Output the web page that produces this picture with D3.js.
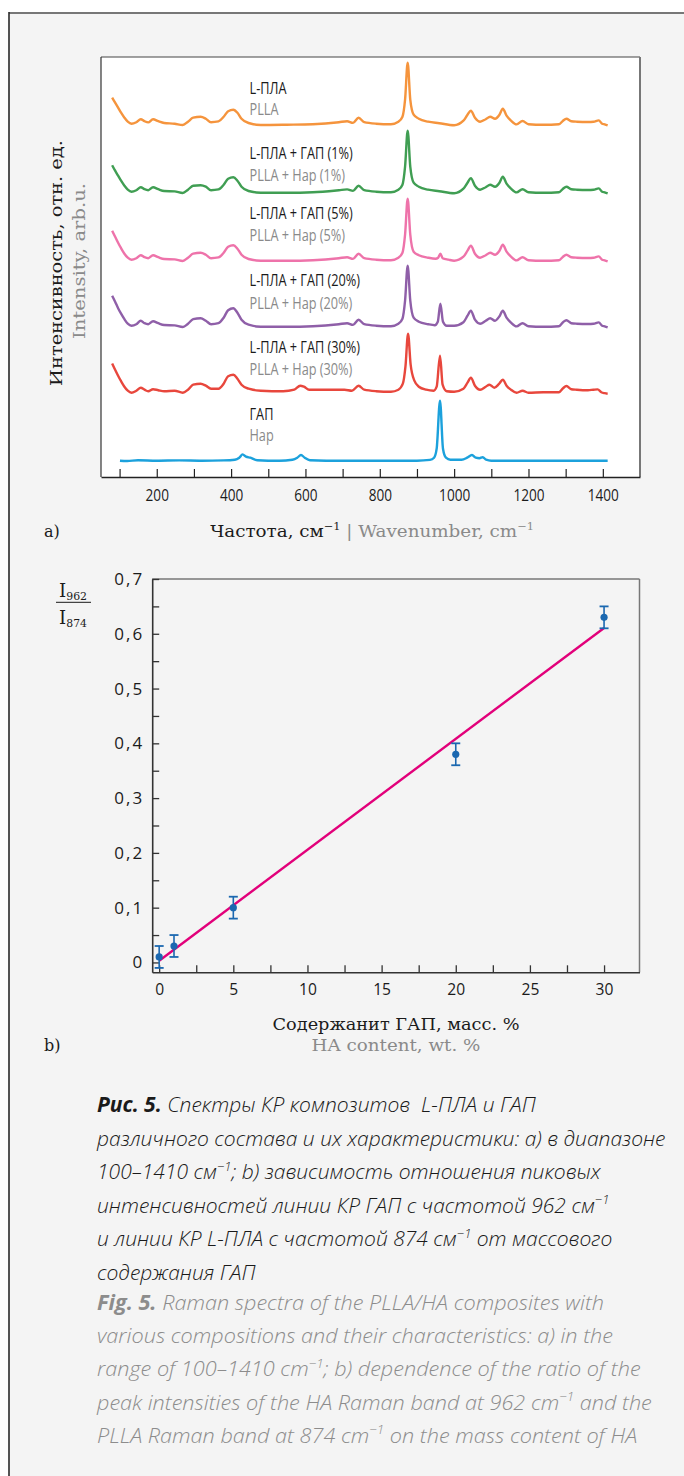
<!DOCTYPE html>
<html>
<head>
<meta charset="utf-8">
<script src="https://cdn.jsdelivr.net/npm/d3@7/dist/d3.min.js"></script>
<style>
  html, body { margin: 0; padding: 0; background: #ffffff; }
  svg { display: block; }
  text { white-space: pre; }
</style>
</head>
<body>
<svg id="fig" width="684" height="1476"></svg>
<script>
// ---------- Panel a: Raman spectra (wavenumber, cm-1 ; intensity above own baseline, arb. u.) ----------
const specPLLA = [
  [80,26],[88,21],[96,16],[104,11],[113,6],[122,2],[132,0],[145,1.5],[157,4.5],[167,2.5],[177,1.3],[190,4.5],
  [204,2.5],[220,0.7],[248,0],[270,-1.3],[284,2],[298,6],[318,7],[332,5],[346,1.5],[366,2.3],[380,7],[392,12.5],
  [406,14],[417,11],[428,5],[447,0.7],[480,-1.3],[550,-1],[620,-0.5],[690,1.5],[712,2.5],[728,0.8],[743,6],[758,1.5],
  [790,0],[830,-0.5],[850,2],[861,7],[868,24],[875,61],[882,24],[891,9],[905,5],[930,2],[960,0.5],[1000,-1.5],
  [1025,3],[1036,9],[1045,13],[1056,6],[1070,2],[1085,4.5],[1097,7],[1110,5],[1122,9],[1131,15],[1141,8],[1153,3],
  [1168,-0.7],[1184,2.7],[1200,-0.5],[1240,-1],[1282,-0.5],[1293,3],[1302,5],[1315,2.5],[1330,2],[1360,1.7],
  [1375,2],[1389,3.3],[1398,0],[1405,-0.7],[1413,-1.7]
];
const specHA1 = [
  [80,26.5],[88,21],[96,16],[104,11],[113,6],[122,2],[132,0],[145,1.5],[157,4.5],[167,2.5],[177,1.5],[190,4.5],
  [204,2.5],[220,0.7],[248,0.3],[270,-1.3],[284,2],[298,6],[318,6.5],[332,5],[346,1.5],[366,2.3],[380,7],[392,13],
  [406,14.5],[417,11],[428,5],[447,0.7],[480,-1],[550,-1],[620,-0.5],[690,1.5],[712,2.3],[728,0.8],[743,6],[758,1.5],
  [790,0],[830,-0.5],[850,2],[861,7],[868,25],[875,61],[882,25],[891,9],[905,5],[930,2],[960,0.5],[1000,-1.5],
  [1025,3],[1036,9],[1045,13.5],[1056,6],[1070,2],[1085,4.5],[1097,7],[1110,5],[1122,9],[1131,15],[1141,8],[1153,3],
  [1168,-0.7],[1184,2.5],[1200,-0.5],[1240,-1],[1282,-0.5],[1293,3],[1302,5],[1315,2.5],[1330,2],[1360,1.7],
  [1375,2],[1389,3.3],[1398,0],[1405,-0.7],[1413,-1.7]
];
const specHA5 = [
  [80,29],[88,23],[96,17],[104,11.5],[113,6],[122,2],[132,0],[145,1.5],[157,4.5],[167,2.5],[177,1.5],[190,4.5],
  [204,2.5],[220,0.7],[248,0.3],[270,-1.3],[284,2],[298,6],[318,7],[332,5],[346,1.5],[366,2.3],[380,7],[392,13],
  [406,14.5],[417,11],[428,5],[447,0.7],[480,-1],[550,-1],[620,-0.5],[690,1.5],[712,2.5],[728,0.8],[743,6],[758,1.5],
  [790,0],[830,-0.5],[850,2],[861,7],[868,25],[875,61],[882,25],[891,8],[905,4.5],[930,2],[950,1],[957,2],[963,6],
  [969,1.5],[985,0],[1000,-1],
  [1025,3],[1036,9],[1045,14],[1056,6],[1070,2],[1085,4.5],[1097,7],[1110,5],[1122,9],[1131,15],[1141,8],[1153,3],
  [1168,-0.7],[1184,2.5],[1200,-0.5],[1240,-1],[1282,-0.5],[1293,3],[1302,5],[1315,2.5],[1330,2],[1360,1.7],
  [1375,2],[1389,3.3],[1398,0],[1405,-0.7],[1413,-1.7]
];
const specHA20 = [
  [80,30],[88,24],[96,17.5],[104,12],[113,6.5],[122,2],[132,0],[145,1.5],[157,5],[167,2.5],[177,1.5],[190,4.5],
  [204,2.5],[220,0.7],[248,0.3],[270,-1.3],[284,2],[298,6.5],[318,7.5],[332,5],[346,1.5],[366,2.5],[380,8],[392,15.5],
  [406,17.5],[417,13],[428,6],[447,1],[480,-1],[550,-1],[620,-0.5],[690,1.5],[712,2.5],[728,0.8],[743,6],[758,1.5],
  [790,0],[830,-0.5],[850,2],[861,7],[868,25],[875,60],[882,25],[891,8],[905,4],[930,1.5],[948,0.5],[956,4],[963,22],
  [970,4],[980,0],[1000,0],
  [1025,3.5],[1036,10],[1045,15],[1056,6],[1070,2],[1085,5],[1097,7.5],[1110,5],[1122,9.5],[1131,15],[1141,8],[1153,3],
  [1168,-0.7],[1184,2.5],[1200,-0.5],[1240,-1],[1282,-0.5],[1293,3.5],[1302,5.5],[1315,2.5],[1330,2],[1360,1.7],
  [1375,2],[1389,3.3],[1398,0],[1405,-0.7],[1413,-1.7]
];
const specHA30 = [
  [80,29.3],[88,23],[96,17],[104,11.5],[113,6],[122,2],[132,0],[145,2],[157,5],[167,3],[177,1.5],[190,3.5],
  [204,2.5],[220,1.5],[248,2],[270,0],[284,3],[298,8],[318,9],[332,7],[346,4],[366,4],[380,9],[392,16.5],
  [406,18],[417,14],[428,8],[447,4],[480,2],[540,1.5],[570,3],[586,7],[596,6],[610,3],[660,3],[705,3],[725,2],
  [743,7],[758,3],[790,1.5],[830,1],[850,3],[862,9],[869,26],[876,59],[883,28],[893,12],[905,6],[925,3],[945,2],
  [953,6],[962,37],[969,8],[980,1.5],[1000,1],
  [1025,4],[1036,10],[1045,15],[1056,7],[1070,3],[1085,6],[1095,8],[1108,5],[1120,8.5],[1131,13],[1141,7],[1153,3],
  [1168,0],[1184,2],[1200,0],[1240,0.5],[1282,0.5],[1293,4.5],[1302,6.7],[1315,3.5],[1330,3],[1360,2.5],
  [1375,3],[1386,3.3],[1396,0.5],[1405,-0.5],[1413,-1]
];
const specHA = [
  [101,0],[120,-0.3],[150,0.5],[200,0],[260,0.3],[320,0],[380,0.3],[410,1],[422,3],[431,6.3],[440,4],[452,3],
  [470,0.5],[530,0],[565,1],[578,3],[588,5.7],[598,3],[612,0.5],[700,0],[800,0],[900,0],[935,0.8],[946,3],
  [953,12],[962,60],[970,12],[978,3],[990,1],[1020,1],[1035,3],[1048,5.7],[1058,3],[1068,2.5],[1077,3.5],
  [1086,1],[1100,0],[1200,0],[1300,0],[1413,0]
];

const spectra      = [specPLLA, specHA1, specHA5, specHA20, specHA30, specHA];
const stackOffsets = [337, 269, 201, 135, 68, 0];
const spectrumColors = ["#f5943c", "#3f9e52", "#ee73aa", "#8f5fa8", "#e8473c", "#1aa1dc"];
const labelsRu = ["L-ПЛА", "L-ПЛА + ГАП (1%)", "L-ПЛА + ГАП (5%)", "L-ПЛА + ГАП (20%)", "L-ПЛА + ГАП (30%)", "ГАП"];
const labelsEn = ["PLLA", "PLLA + Hap (1%)", "PLLA + Hap (5%)", "PLLA + Hap (20%)", "PLLA + Hap (30%)", "Hap"];
const wnTickValues = [200, 400, 600, 800, 1000, 1200, 1400];
const wnTickLabels = ["200", "400", "600", "800", "1000", "1200", "1400"];
const wnMinorTicks = [100, 300, 500, 700, 900, 1100, 1300];

// ---------- Panel b: I962 / I874 versus HA content ----------
const haContent   = [0, 1, 5, 20, 30];
const ratio       = [0.01, 0.03, 0.10, 0.38, 0.63];
const ratioErr    = [0.02, 0.02, 0.02, 0.02, 0.02];
const ratioTicks  = [0, 0.1, 0.2, 0.3, 0.4, 0.5, 0.6, 0.7];
const ratioTickLabels = ["0", "0,1", "0,2", "0,3", "0,4", "0,5", "0,6", "0,7"];
const ratioMinor  = [0.05, 0.15, 0.25, 0.35, 0.45, 0.55, 0.65];
const contentTicks = [0, 5, 10, 15, 20, 25, 30];
const contentTickLabels = ["0", "5", "10", "15", "20", "25", "30"];
const contentMinor = [2.5, 7.5, 12.5, 17.5, 22.5, 27.5];

// ---------- Caption ----------
const captionRu = [
  [{t: "Рис. 5.", bold: true}, " Спектры КР композитов  L-ПЛА и ГАП"],
  ["различного состава и их характеристики: а) в диапазоне"],
  ["100–1410 см", {t: "−1", sup: true}, "; b) зависимость отношения пиковых"],
  ["интенсивностей линии КР ГАП с частотой 962 см", {t: "−1", sup: true}],
  ["и линии КР L-ПЛА с частотой 874 см", {t: "−1", sup: true}, " от массового"],
  ["содержания ГАП"]
];
const captionEn = [
  [{t: "Fig. 5.", bold: true}, " Raman spectra of the PLLA/HA composites with"],
  ["various compositions and their characteristics: a) in the"],
  ["range of 100–1410 cm", {t: "−1", sup: true}, "; b) dependence of the ratio of the"],
  ["peak intensities of the HA Raman band at 962 cm", {t: "−1", sup: true}, " and the"],
  ["PLLA Raman band at 874 cm", {t: "−1", sup: true}, " on the mass content of HA"]
];

// ---------- drawing ----------
const SANS  = "'Open Sans', 'Noto Sans', sans-serif";
const SERIF = "'DejaVu Serif', 'Liberation Serif', serif";
const INK = "#1b1b1b", GREY = "#8a8a8a";

const svg = d3.select("#fig");

// text with optional bold / superscript / subscript runs, optionally squeezed to a width
function richText(parent, x, y, segs, o) {
  const g = parent.append("g")
    .attr("transform", `translate(${x},${y})` + (o.rotate ? ` rotate(${o.rotate})` : ""));
  const t = g.append("text")
    .attr("text-anchor", o.anchor || "start")
    .attr("fill", o.fill || INK)
    .style("font-family", o.family)
    .style("font-size", o.size + "px")
    .style("font-style", o.italic ? "italic" : "normal")
    .style("font-weight", o.weight || 400);
  if (o.spacing) t.style("letter-spacing", o.spacing + "px");
  let shift = 0;
  segs.forEach(s => {
    if (typeof s === "string") s = {t: s};
    const ts = t.append("tspan").text(s.t);
    const target = s.sup ? -o.size * 0.4 : s.sub ? o.size * (o.subShift || 0.3) : 0;
    const dy = target - shift;
    shift = target;
    if (dy) ts.attr("dy", dy);
    if (s.sup || s.sub) ts.style("font-size", (o.size * (o.subScale || 0.62)) + "px");
    if (s.bold) ts.style("font-weight", 700);
    if (s.fill) ts.attr("fill", s.fill);
  });
  if (o.width) {
    const w = t.node().getBBox().width;
    t.attr("transform", `scale(${o.width / w},1)`);
  } else if (o.scaleX) {
    t.attr("transform", `scale(${o.scaleX},1)`);
  }
  return t;
}

// page frame
svg.append("rect").attr("x", 9).attr("y", 13).attr("width", 675).attr("height", 1463).attr("fill", "#f4f4f4");
svg.append("line").attr("x1", 9).attr("x2", 684).attr("y1", 13).attr("y2", 13)
  .attr("stroke", "#777").attr("stroke-width", 2);
svg.append("line").attr("x1", 9).attr("x2", 9).attr("y1", 12).attr("y2", 1476)
  .attr("stroke", "#2a2a2a").attr("stroke-width", 1.6);

// ===== Panel a =====
const A = {left: 101, right: 640, top: 57, bottom: 477};
const xA = d3.scaleLinear().domain([50, 1500]).range([A.left, A.right]);
const yA = d3.scaleLinear().domain([-16.3, 403.7]).range([A.bottom, A.top]);

const gA = svg.append("g");
gA.append("rect").attr("x", A.left).attr("y", A.top)
  .attr("width", A.right - A.left).attr("height", A.bottom - A.top).attr("fill", "#ffffff");

const defs = svg.append("defs");
defs.append("filter").attr("id", "soft").attr("x", "-5%").attr("y", "-5%").attr("width", "110%").attr("height", "110%")
  .append("feGaussianBlur").attr("stdDeviation", 0.45);

const lineA = d3.line().curve(d3.curveMonotoneX);
spectra.forEach((spec, i) => {
  gA.append("path")
    .datum(spec)
    .attr("d", lineA.x(d => xA(d[0])).y(d => yA(d[1] + stackOffsets[i])))
    .attr("fill", "none")
    .attr("stroke", spectrumColors[i])
    .attr("stroke-width", 2.4)
    .attr("stroke-linejoin", "round")
    .attr("filter", "url(#soft)");
});

// spectrum names
const labelBaseRu = [94, 159, 219, 286, 352.5, 420];
const labelBaseEn = [115, 181, 241, 308.5, 375, 441];
labelsRu.forEach((s, i) => {
  richText(gA, 249.5, labelBaseRu[i], [s], {family: SANS, size: 16.5, fill: INK, scaleX: 0.77});
  richText(gA, 249.5, labelBaseEn[i], [labelsEn[i]], {family: SANS, size: 16.5, fill: GREY, scaleX: 0.77});
});

// frame of panel a
gA.append("line").attr("x1", A.left).attr("x2", A.right).attr("y1", A.top).attr("y2", A.top)
  .attr("stroke", "#444").attr("stroke-width", 1.2);
gA.append("line").attr("x1", A.left).attr("x2", A.left).attr("y1", A.top).attr("y2", A.bottom)
  .attr("stroke", "#333").attr("stroke-width", 1.2);
gA.append("line").attr("x1", A.right).attr("x2", A.right).attr("y1", A.top).attr("y2", A.bottom)
  .attr("stroke", "#777").attr("stroke-width", 2);

const axA = gA.append("g").attr("transform", `translate(0,${A.bottom})`)
  .call(d3.axisBottom(xA).tickValues(wnTickValues).tickSizeInner(-8).tickSizeOuter(0).tickPadding(13)
    .tickFormat((d, i) => wnTickLabels[i]));
gA.append("g").attr("transform", `translate(0,${A.bottom})`)
  .call(d3.axisBottom(xA).tickValues(wnMinorTicks).tickSizeInner(-8).tickSizeOuter(0).tickFormat(""))
  .select(".domain").remove();
axA.select(".domain").attr("stroke", "#222").attr("stroke-width", 1.4);
gA.selectAll(".tick line").attr("stroke", "#222").attr("stroke-width", 1.2);
axA.selectAll(".tick text")
  .attr("fill", INK).style("font-family", SANS).style("font-size", "16px")
  .attr("transform", "scale(0.85,1)");

// axis titles of panel a
richText(svg, 372, 537, [
  "Частота, см", {t: "−1", sup: true},
  {t: " | Wavenumber, cm", fill: GREY}, {t: "−1", sup: true, fill: GREY}
], {family: SERIF, size: 16.5, anchor: "middle", width: 324});
richText(svg, 44, 537, ["a)"], {family: SERIF, size: 16});
richText(svg, 62, 263, ["Интенсивность, отн. ед."],
  {family: SERIF, size: 16, anchor: "middle", rotate: -90, width: 246});
richText(svg, 85, 261, ["Intensity, arb.u."],
  {family: SERIF, size: 16, anchor: "middle", rotate: -90, width: 156, fill: GREY});

// ===== Panel b =====
const B = {left: 152.2, right: 639.5, top: 579, bottom: 972.3};
const xB = d3.scaleLinear().domain([-0.47, 32.39]).range([B.left, B.right]);
const yB = d3.scaleLinear().domain([-0.018, 0.7]).range([B.bottom, B.top]);
const gB = svg.append("g");

gB.append("line").attr("x1", B.left).attr("x2", B.right).attr("y1", B.top).attr("y2", B.top)
  .attr("stroke", "#777").attr("stroke-width", 1.5);
gB.append("line").attr("x1", B.right).attr("x2", B.right).attr("y1", B.top).attr("y2", B.bottom)
  .attr("stroke", "#777").attr("stroke-width", 1.5);

const axBy = gB.append("g").attr("transform", `translate(${B.left},0)`)
  .call(d3.axisLeft(yB).tickValues(ratioTicks).tickSizeInner(-7).tickSizeOuter(0).tickPadding(8)
    .tickFormat((d, i) => ratioTickLabels[i]));
gB.append("g").attr("transform", `translate(${B.left},0)`)
  .call(d3.axisLeft(yB).tickValues(ratioMinor).tickSizeInner(-7).tickSizeOuter(0).tickFormat(""))
  .select(".domain").remove();
const axBx = gB.append("g").attr("transform", `translate(0,${B.bottom})`)
  .call(d3.axisBottom(xB).tickValues(contentTicks).tickSizeInner(-7).tickSizeOuter(0).tickPadding(11)
    .tickFormat((d, i) => contentTickLabels[i]));
gB.append("g").attr("transform", `translate(0,${B.bottom})`)
  .call(d3.axisBottom(xB).tickValues(contentMinor).tickSizeInner(-7).tickSizeOuter(0).tickFormat(""))
  .select(".domain").remove();
[axBy, axBx].forEach(a => a.select(".domain").attr("stroke", "#333").attr("stroke-width", 1.6));
gB.selectAll(".tick line").attr("stroke", "#333").attr("stroke-width", 1.3);
axBy.selectAll(".tick text").attr("fill", INK).style("font-family", SANS).style("font-size", "17px")
  .style("letter-spacing", "2px");
axBx.selectAll(".tick text").attr("fill", INK).style("font-family", SANS).style("font-size", "17px")
  .attr("transform", "scale(0.92,1)");

// least-squares line through the measured ratios
const mx = d3.mean(haContent), my = d3.mean(ratio);
const slope = d3.sum(haContent, (x, i) => (x - mx) * (ratio[i] - my)) / d3.sum(haContent, x => (x - mx) ** 2);
const intercept = my - slope * mx;
const fitX = [d3.min(haContent), d3.max(haContent)];
gB.append("line")
  .attr("x1", xB(fitX[0])).attr("y1", yB(intercept + slope * fitX[0]))
  .attr("x2", xB(fitX[1])).attr("y2", yB(intercept + slope * fitX[1]))
  .attr("stroke", "#e2007a").attr("stroke-width", 2.4);

// error bars and points
const PT = "#1b68b0";
const eb = gB.selectAll("g.eb").data(haContent).enter().append("g").attr("class", "eb");
eb.append("line")
  .attr("x1", d => xB(d)).attr("x2", d => xB(d))
  .attr("y1", (d, i) => yB(ratio[i] - ratioErr[i])).attr("y2", (d, i) => yB(ratio[i] + ratioErr[i]))
  .attr("stroke", PT).attr("stroke-width", 1.6);
[-1, 1].forEach(sgn => {
  eb.append("line")
    .attr("x1", d => xB(d) - 4.5).attr("x2", d => xB(d) + 4.5)
    .attr("y1", (d, i) => yB(ratio[i] + sgn * ratioErr[i])).attr("y2", (d, i) => yB(ratio[i] + sgn * ratioErr[i]))
    .attr("stroke", PT).attr("stroke-width", 1.8);
});
eb.append("circle")
  .attr("cx", d => xB(d)).attr("cy", (d, i) => yB(ratio[i]))
  .attr("r", 3.6).attr("fill", PT);

// axis titles of panel b
richText(svg, 73, 597, ["I", {t: "962", sub: true}],
  {family: SERIF, size: 18, anchor: "middle", subScale: 0.6, subShift: 0.18, width: 28});
svg.append("line").attr("x1", 56).attr("x2", 91).attr("y1", 602.3).attr("y2", 602.3)
  .attr("stroke", "#444").attr("stroke-width", 1.3);
richText(svg, 73, 624, ["I", {t: "874", sub: true}],
  {family: SERIF, size: 18, anchor: "middle", subScale: 0.6, subShift: 0.18, width: 28});
richText(svg, 396, 1030, ["Содержанит ГАП, масс. %"], {family: SERIF, size: 17, anchor: "middle", width: 247});
richText(svg, 396, 1051, ["HA content, wt. %"], {family: SERIF, size: 17, anchor: "middle", width: 169, fill: GREY});
richText(svg, 44, 1051, ["b)"], {family: SERIF, size: 16});

// ===== Caption =====
const capRu = captionRu.map((segs, i) =>
  richText(svg, 97, 1112 + i * 33.6, segs, {family: SANS, size: 21, italic: true, weight: 300, fill: "#1a1a1a"}));
const capEn = captionEn.map((segs, i) =>
  richText(svg, 97, 1310 + i * 33.2, segs, {family: SANS, size: 21, italic: true, weight: 300, fill: "#8c8c8c"}));
const sRu = 570 / capRu[1].node().getBBox().width;
const sEn = 556 / capEn[3].node().getBBox().width;
capRu.forEach(t => t.attr("transform", `scale(${sRu},1)`));
capEn.forEach(t => t.attr("transform", `scale(${sEn},1)`));
</script>
</body>
</html>
